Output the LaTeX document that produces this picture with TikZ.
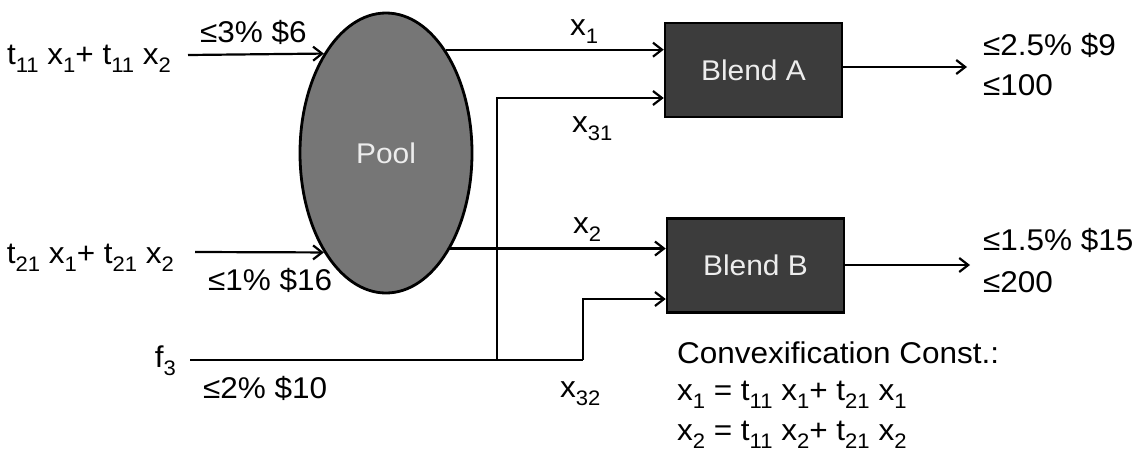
\documentclass[tikz,border=0pt]{standalone}
\usepackage{fontspec}
\setmainfont{Liberation Sans}[FakeStretch=1.05]
\usetikzlibrary{shapes.geometric,arrows.meta}
\newcommand\sbs[1]{\raisebox{-8pt}{\fontsize{21}{21}\selectfont #1}}
\definecolor{poolgray}{HTML}{767676}
\definecolor{blendgray}{HTML}{3C3C3C}
\definecolor{boxtext}{HTML}{EDEDED}
\tikzset{
  txt/.style={font=\fontsize{30}{34}\selectfont, inner sep=0pt, outer sep=0pt},
  flow/.style={line width=2.2pt, -{Straight Barb[length=9pt,width=14pt,line width=2.2pt]}},
  plain/.style={line width=2.2pt},
  blendbox/.style={draw=black, line width=2.5pt, fill=blendgray, text=boxtext,
    minimum width=177pt, minimum height=94pt, inner sep=0pt, font=\fontsize{28.5}{32}\selectfont},
  poolnode/.style={ellipse, draw=black, line width=2.8pt, fill=poolgray, text=boxtext,
    minimum width=172pt, minimum height=280pt, inner sep=0pt, font=\fontsize{28.5}{32}\selectfont}
}
\begin{document}
\begin{tikzpicture}[x=1pt,y=-1pt]
\useasboundingbox (0,0) rectangle (1145,451);
% main nodes
\node[poolnode] (pool) at (386,153) {Pool};
\node[blendbox] (blendA) at (753.5,70) {Blend A};
\node[blendbox] (blendB) at (755.5,265.5) {Blend B};
% left texts
\node[txt, anchor=base east] (t1) at (171,64) {t\sbs{11} x\sbs{1}+ t\sbs{11} x\sbs{2}};
\node[txt, anchor=base east] (t2) at (174,263) {t\sbs{21} x\sbs{1}+ t\sbs{21} x\sbs{2}};
\node[txt, anchor=base east] (f3) at (176,367) {f\sbs{3}};
\node[txt, anchor=base west] (l1) at (200,42) {≤3\% \$6};
\node[txt, anchor=base west] (l2) at (208,290) {≤1\% \$16};
\node[txt, anchor=base west] (l3) at (203,398) {≤2\% \$10};
% flow labels
\node[txt, anchor=base west] (lx1) at (570,35) {x\sbs{1}};
\node[txt, anchor=base west] (lx31) at (572,132) {x\sbs{31}};
\node[txt, anchor=base west] (lx2) at (573,233) {x\sbs{2}};
\node[txt, anchor=base west] (lx32) at (560,397) {x\sbs{32}};
% right texts
\node[txt, anchor=base west] (rA1) at (983,55) {≤2.5\% \$9};
\node[txt, anchor=base west] (rA2) at (983,95) {≤100};
\node[txt, anchor=base west] (rB1) at (983,250) {≤1.5\% \$15};
\node[txt, anchor=base west] (rB2) at (983,292) {≤200};
\node[txt, anchor=base west] (c0) at (677,363) {Convexification Const.:};
\node[txt, anchor=base west] (c1) at (677,400) {x\sbs{1} = t\sbs{11} x\sbs{1}+ t\sbs{21} x\sbs{1}};
\node[txt, anchor=base west] (c2) at (677,440) {x\sbs{2} = t\sbs{11} x\sbs{2}+ t\sbs{21} x\sbs{2}};
% coordinates
\coordinate (in1) at (188,55);
\coordinate (in2) at (195,252);
\coordinate (f3s) at (190,360);
\coordinate (j1) at (497,360);
\coordinate (j2) at (583,360);
\coordinate (outA) at (967,67);
\coordinate (outB) at (970,265);
% connectors
\draw[flow] (in1) -- (pool.122.1);
\draw[flow] (in2) -- (pool.238.4);
\draw[flow] (pool.60.5) -- (pool.60.5 -| blendA.west);
\draw[flow] (pool.-56.9) -- (pool.-56.9 -| blendB.west);
\draw[plain] (f3s) -- (j2);
\draw[flow] (j1) |- ([yshift=-28pt]blendA.west);
\draw[flow] (j2) |- ([yshift=-33.5pt]blendB.west);
\draw[flow] (blendA.east |- outA) -- (outA);
\draw[flow] (blendB.east |- outB) -- (outB);
\end{tikzpicture}
\end{document}
